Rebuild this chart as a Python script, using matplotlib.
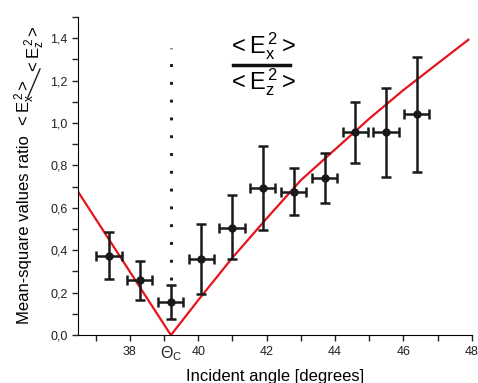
import matplotlib
matplotlib.use("Agg")
import matplotlib.pyplot as plt
from matplotlib.ticker import MultipleLocator, FuncFormatter
from matplotlib.lines import Line2D
import matplotlib.transforms as mtransforms
import numpy as np

plt.rcParams['font.family'] = ['Liberation Sans', 'DejaVu Sans']
plt.rcParams['mathtext.fontset'] = 'custom'
plt.rcParams['mathtext.rm'] = 'Liberation Sans'
plt.rcParams['mathtext.it'] = 'Liberation Sans:italic'
plt.rcParams['mathtext.default'] = 'regular'

# measured ratio with errors
angle = [37.39, 38.29, 39.19, 40.09, 40.99, 41.88, 42.79, 43.70, 44.59, 45.49, 46.39]
ratio = [0.373, 0.260, 0.154, 0.359, 0.506, 0.695, 0.676, 0.740, 0.957, 0.957, 1.043]
err_hi = [0.485, 0.349, 0.236, 0.524, 0.661, 0.893, 0.790, 0.857, 1.100, 1.164, 1.313]
err_lo = [0.263, 0.165, 0.074, 0.192, 0.359, 0.496, 0.566, 0.621, 0.813, 0.747, 0.771]
angle_err = 0.37

# theory curve
theory_x = [36.5, 39.2, 40.0, 41.0, 42.0, 43.0, 44.0, 45.0, 46.0, 47.0, 47.9]
theory_y = [0.672, 0.0, 0.165, 0.365, 0.55, 0.73, 0.875, 1.02, 1.155, 1.28, 1.392]

theta_c = 39.2

W, H = 478, 383
fig = plt.figure(figsize=(W / 100, H / 100), dpi=100)
ax = fig.add_axes([0.163, 0.125, 0.824, 0.831])

ax.plot(theory_x, theory_y, color='#e8141c', lw=1.6, zorder=2)

yerr = [np.array(ratio) - np.array(err_lo), np.array(err_hi) - np.array(ratio)]
ax.errorbar(angle, ratio, yerr=yerr, xerr=angle_err, fmt='o', color='#1a1a1a',
            ms=5, elinewidth=1.8, capsize=3.3, capthick=1.8, zorder=3)

# critical angle marker
ax.vlines(theta_c, 0.26, 1.355, colors='#1a1a1a', lw=2.1,
          linestyles=(0, (1, 5.1)))

ax.set_xlim(36.48, 48)
ax.set_ylim(0, 1.5)
ax.spines['top'].set_visible(False)
ax.spines['right'].set_visible(False)
ax.xaxis.set_major_locator(MultipleLocator(2))
ax.xaxis.set_minor_locator(MultipleLocator(1))
ax.yaxis.set_major_locator(MultipleLocator(0.2))
ax.yaxis.set_minor_locator(MultipleLocator(0.1))
ax.yaxis.set_major_formatter(FuncFormatter(lambda v, p: f"{v:.1f}".replace('.', ',')))
ax.tick_params(which='both', direction='out', length=4, width=1, labelsize=9,
               colors='#222222')
ax.set_xticks([38, 40, 42, 44, 46, 48])

trans = mtransforms.blended_transform_factory(ax.transData, ax.transAxes)
ax.text(theta_c, -0.03, r'$\Theta_C$', transform=trans, ha='center', va='top',
        fontsize=11.5, color='#222222')

ax.set_xlabel('Incident angle [degrees]', fontsize=12, labelpad=8)

# y label: text plus a slashed fraction
fig.text(25 / W, 1 - 230 / H, 'Mean-square values ratio', rotation=90,
         ha='center', va='center', fontsize=12)
fig.text(25 / W, 1 - 104 / H, r'$<E_x^{\,2}>$', rotation=90,
         ha='center', va='center', fontsize=12)
fig.add_artist(Line2D([28 / W, 40 / W], [1 - 97 / H, 1 - 69 / H],
                      transform=fig.transFigure, color='#1a1a1a', lw=1))
fig.text(35 / W, 1 - 50 / H, r'$<E_z^{\,2}>$', rotation=90,
         ha='center', va='center', fontsize=12)

# ratio legend as a fraction
ax.text(41.87, 1.36, r'$<E_x^{\,2}>$', ha='center', va='center', fontsize=17)
ax.plot([41.03, 42.69], [1.271, 1.271], color='#111111', lw=2.5, clip_on=False)
ax.text(41.87, 1.19, r'$<E_z^{\,2}>$', ha='center', va='center', fontsize=17)

fig.savefig('out.png', dpi=100)
